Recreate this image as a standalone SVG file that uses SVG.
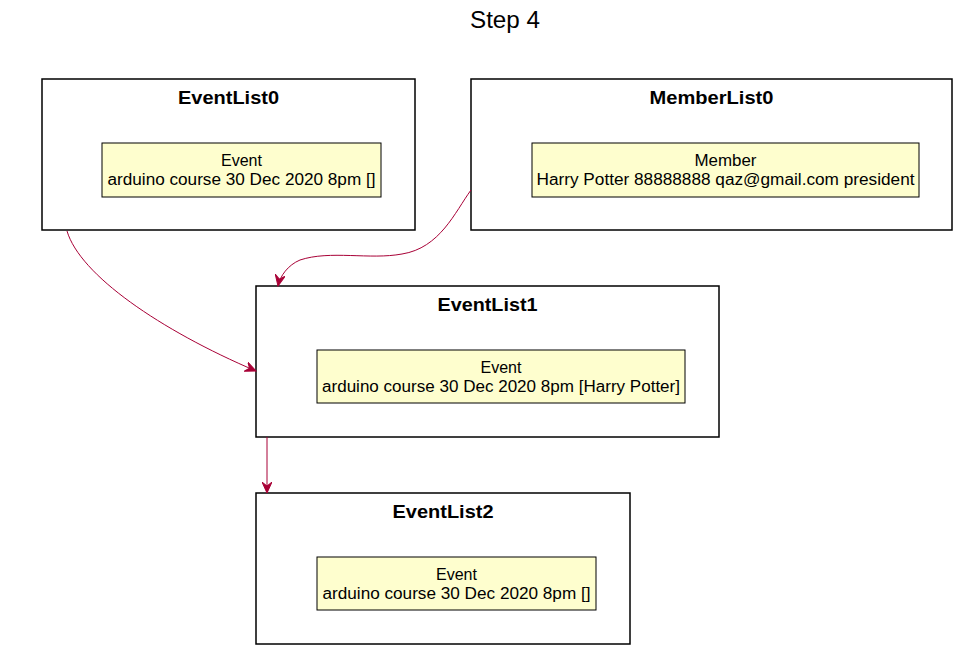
<svg xmlns="http://www.w3.org/2000/svg" width="965" height="658" viewBox="0 0 965 658">
<style>
text{font-family:"Liberation Sans",Arial,sans-serif;fill:#000}
.title{font-size:23px}
.frame{fill:#fff;stroke:#000;stroke-width:1.5}
.ftitle{font-size:18px;font-weight:bold}
.obj{fill:#FEFECE;stroke:#000;stroke-width:1}
.otxt{font-size:16px}
.edge{fill:none;stroke:#A80036;stroke-width:1}
</style>
<defs>
<marker id="arr" viewBox="0 0 12 10" refX="11" refY="5" markerWidth="12" markerHeight="10" markerUnits="userSpaceOnUse" orient="auto">
<path d="M0,0 L11,5 L0,10 L4,5 Z" fill="#A80036" stroke="#A80036" stroke-width="1"/>
</marker>
</defs>
<rect width="965" height="658" fill="#fff"/>
<text class="title" x="505" y="28" text-anchor="middle" textLength="70" lengthAdjust="spacingAndGlyphs">Step 4</text>

<g id="EventList0">
<rect class="frame" x="42" y="79" width="373" height="151"/>
<text class="ftitle" x="228.5" y="104" text-anchor="middle" textLength="101" lengthAdjust="spacingAndGlyphs">EventList0</text>
<rect class="obj" x="102" y="143" width="279" height="54"/>
<text class="otxt" x="241.5" y="166" text-anchor="middle" textLength="41" lengthAdjust="spacingAndGlyphs">Event</text>
<text class="otxt" x="241.5" y="185" text-anchor="middle" textLength="268" lengthAdjust="spacingAndGlyphs">arduino course 30 Dec 2020 8pm []</text>
</g>

<g id="MemberList0">
<rect class="frame" x="471" y="79" width="481" height="151"/>
<text class="ftitle" x="711.5" y="104" text-anchor="middle" textLength="124" lengthAdjust="spacingAndGlyphs">MemberList0</text>
<rect class="obj" x="532" y="143" width="387" height="54"/>
<text class="otxt" x="725.5" y="166" text-anchor="middle" textLength="62" lengthAdjust="spacingAndGlyphs">Member</text>
<text class="otxt" x="725.5" y="185" text-anchor="middle" textLength="378" lengthAdjust="spacingAndGlyphs">Harry Potter 88888888 qaz@gmail.com president</text>
</g>

<g id="EventList1">
<rect class="frame" x="256" y="286" width="463" height="151"/>
<text class="ftitle" x="487.5" y="311" text-anchor="middle" textLength="100" lengthAdjust="spacingAndGlyphs">EventList1</text>
<rect class="obj" x="317" y="350" width="368" height="53"/>
<text class="otxt" x="501" y="373" text-anchor="middle" textLength="41" lengthAdjust="spacingAndGlyphs">Event</text>
<text class="otxt" x="501" y="392" text-anchor="middle" textLength="358" lengthAdjust="spacingAndGlyphs">arduino course 30 Dec 2020 8pm [Harry Potter]</text>
</g>

<g id="EventList2">
<rect class="frame" x="256" y="493" width="374" height="151"/>
<text class="ftitle" x="443" y="518" text-anchor="middle" textLength="101" lengthAdjust="spacingAndGlyphs">EventList2</text>
<rect class="obj" x="317" y="557" width="279" height="53"/>
<text class="otxt" x="456.5" y="580" text-anchor="middle" textLength="41" lengthAdjust="spacingAndGlyphs">Event</text>
<text class="otxt" x="456.5" y="599" text-anchor="middle" textLength="268" lengthAdjust="spacingAndGlyphs">arduino course 30 Dec 2020 8pm []</text>
</g>

<g id="connectors">
<path class="edge" marker-end="url(#arr)" d="M67,231 C80,275 160,330 256,371"/>
<path class="edge" marker-end="url(#arr)" d="M471,190 C455,212 440,248 402,254 C370,260 330,250 300,260 C288,265 280,276 278,286"/>
<path class="edge" marker-end="url(#arr)" d="M267,437 L267,493"/>
</g>
</svg>
